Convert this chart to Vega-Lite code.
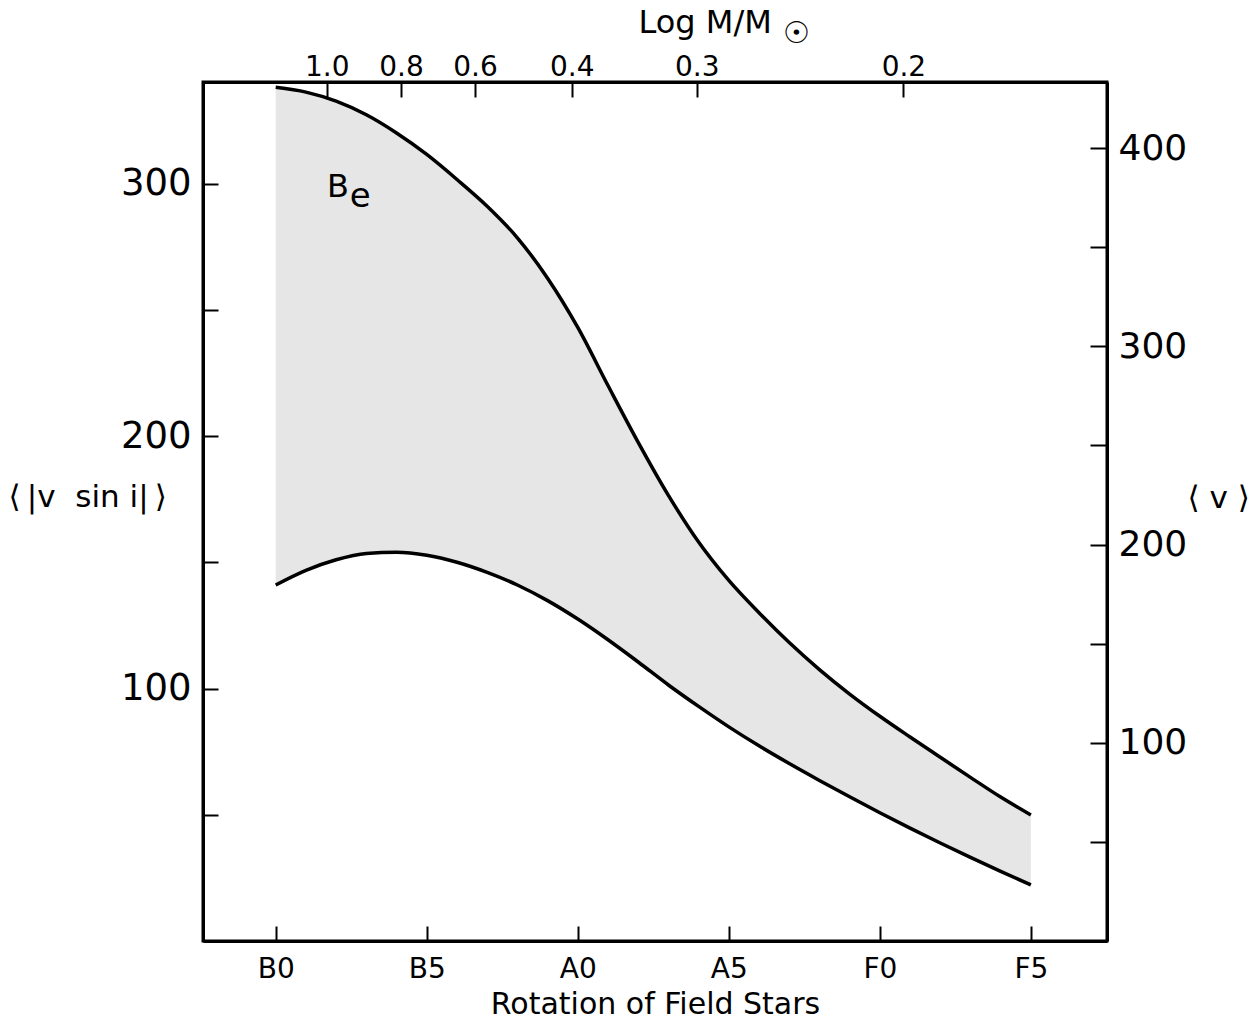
{
  "$schema": "https://vega.github.io/schema/vega-lite/v6.json",
  "autosize": {"type": "none"},
  "padding": {"left": 203, "top": 82, "right": 153, "bottom": 79},
  "width": 904,
  "height": 859,
  "background": "white",
  "config": {
    "view": {"stroke": "black", "strokeWidth": 3},
    "font": "DejaVu Sans",
    "axis": {
      "domainColor": "black", "domainWidth": 3, "tickColor": "black", "tickWidth": 2,
      "labelColor": "black", "titleColor": "black", "grid": false,
      "titleFontWeight": "normal", "labelFont": "DejaVu Sans", "titleFont": "DejaVu Sans"
    }
  },
  "datasets": {
    "band": [
      {"sp": 0, "upper": 338.1, "lower": 141.0},
      {"sp": 1, "upper": 336.2, "lower": 146.8},
      {"sp": 2, "upper": 332.6, "lower": 151.0},
      {"sp": 3, "upper": 327.2, "lower": 153.5},
      {"sp": 4, "upper": 320.0, "lower": 154.0},
      {"sp": 5, "upper": 311.5, "lower": 152.8},
      {"sp": 6, "upper": 301.6, "lower": 150.0},
      {"sp": 7, "upper": 291.0, "lower": 146.0},
      {"sp": 8, "upper": 278.5, "lower": 141.0},
      {"sp": 9, "upper": 262.5, "lower": 134.8},
      {"sp": 10, "upper": 243.0, "lower": 127.5},
      {"sp": 11, "upper": 220.0, "lower": 119.3},
      {"sp": 12, "upper": 197.5, "lower": 110.5},
      {"sp": 13, "upper": 176.5, "lower": 101.4},
      {"sp": 14, "upper": 158.0, "lower": 92.9},
      {"sp": 15, "upper": 142.8, "lower": 84.8},
      {"sp": 16, "upper": 130.0, "lower": 77.3},
      {"sp": 17, "upper": 118.2, "lower": 70.3},
      {"sp": 18, "upper": 107.5, "lower": 63.6},
      {"sp": 19, "upper": 97.8, "lower": 57.1},
      {"sp": 20, "upper": 89.0, "lower": 50.8},
      {"sp": 21, "upper": 80.8, "lower": 44.7},
      {"sp": 22, "upper": 72.8, "lower": 38.8},
      {"sp": 23, "upper": 64.8, "lower": 33.1},
      {"sp": 24, "upper": 57.0, "lower": 27.6},
      {"sp": 25, "upper": 49.9, "lower": 22.2}
    ],
    "notes": [
      {"sp": 1.70, "y": 294.8, "t": "B", "size": 32},
      {"sp": 2.45, "y": 290.8, "t": "e", "size": 34}
    ],
    "sun": [
      {"sp": 17.23, "y": 359.2, "t": "☉"}
    ]
  },
  "layer": [
    {
      "layer": [
        {
          "data": {"name": "band"},
          "mark": {"type": "area", "fill": "#e6e6e6", "interpolate": "monotone"},
          "encoding": {
            "x": {"field": "sp", "type": "quantitative",
              "scale": {"domain": [-2.407, 27.52], "nice": false, "zero": false},
              "axis": {"orient": "bottom", "values": [0, 5, 10, 15, 20, 25],
                "labelExpr": "['B0','B5','A0','A5','F0','F5'][round(datum.value/5)]",
                "tickSize": -15, "labelPadding": 29, "labelFontSize": 28,
                "title": "Rotation of Field Stars", "titleFontSize": 30,
                "titleY": 72, "titleBaseline": "alphabetic"}},
            "y": {"field": "upper", "type": "quantitative",
              "scale": {"domain": [0, 340.2], "nice": false},
              "axis": {"orient": "left", "values": [50, 100, 150, 200, 250, 300],
                "labelExpr": "datum.value % 100 == 0 ? datum.label : ''",
                "tickSize": -15, "labelPadding": 27, "labelFontSize": 37,
                "title": "⟨\u2009|v\u00a0\u00a0sin\u00a0i|\u2009⟩", "titleFontSize": 31, "titleAngle": 0,
                "titleAlign": "left", "titleBaseline": "middle", "titleX": -195, "titleY": 415}},
            "y2": {"field": "lower"}
          }
        },
        {
          "data": {"name": "band"},
          "mark": {"type": "line", "color": "black", "strokeWidth": 3.5, "interpolate": "monotone"},
          "encoding": {
            "x": {"field": "sp", "type": "quantitative"},
            "y": {"field": "upper", "type": "quantitative"}
          }
        },
        {
          "data": {"name": "band"},
          "mark": {"type": "line", "color": "black", "strokeWidth": 3.5, "interpolate": "monotone"},
          "encoding": {
            "x": {"field": "sp", "type": "quantitative"},
            "y": {"field": "lower", "type": "quantitative"}
          }
        },
        {
          "data": {"name": "notes"},
          "mark": {"type": "text", "align": "left", "baseline": "alphabetic", "color": "black", "font": "DejaVu Sans"},
          "encoding": {
            "x": {"field": "sp", "type": "quantitative"},
            "y": {"field": "y", "type": "quantitative"},
            "text": {"field": "t"},
            "size": {"field": "size", "type": "quantitative", "scale": null}
          }
        },
        {
          "data": {"name": "sun"},
          "mark": {"type": "text", "align": "center", "baseline": "middle", "color": "black", "fontSize": 30, "font": "DejaVu Sans"},
          "encoding": {
            "x": {"field": "sp", "type": "quantitative"},
            "y": {"field": "y", "type": "quantitative"},
            "text": {"field": "t"}
          }
        }
      ]
    },
    {
      "data": {"values": [{"sp": 0, "v": 0}]},
      "mark": {"type": "point", "opacity": 0},
      "encoding": {
        "x": {"field": "sp", "type": "quantitative",
          "scale": {"domain": [-2.407, 27.52], "nice": false, "zero": false},
          "axis": {"orient": "top", "values": [1.69, 4.15, 6.60, 9.80, 13.94, 20.78],
            "labelExpr": "datum.value < 3 ? '1.0' : datum.value < 5 ? '0.8' : datum.value < 8 ? '0.6' : datum.value < 12 ? '0.4' : datum.value < 17 ? '0.3' : '0.2'",
            "tickSize": -15, "labelPadding": 16, "labelFontSize": 28,
            "title": "Log M/M", "titleFontSize": 32, "titleAlign": "left",
            "titleX": 435, "titleY": -50, "titleBaseline": "alphabetic"}},
        "y": {"field": "v", "type": "quantitative",
          "scale": {"domain": [0, 433.4], "nice": false},
          "axis": {"orient": "right", "values": [50, 100, 150, 200, 250, 300, 350, 400],
            "labelExpr": "datum.value % 100 == 0 ? datum.label : ''",
            "tickSize": -17, "labelPadding": 28, "labelFontSize": 36,
            "title": "⟨ v ⟩", "titleFontSize": 31, "titleAngle": 0,
            "titleAlign": "left", "titleBaseline": "middle", "titleX": 80, "titleY": 416}}
      }
    }
  ],
  "resolve": {
    "scale": {"x": "independent", "y": "independent"},
    "axis": {"x": "independent", "y": "independent"}
  }
}
